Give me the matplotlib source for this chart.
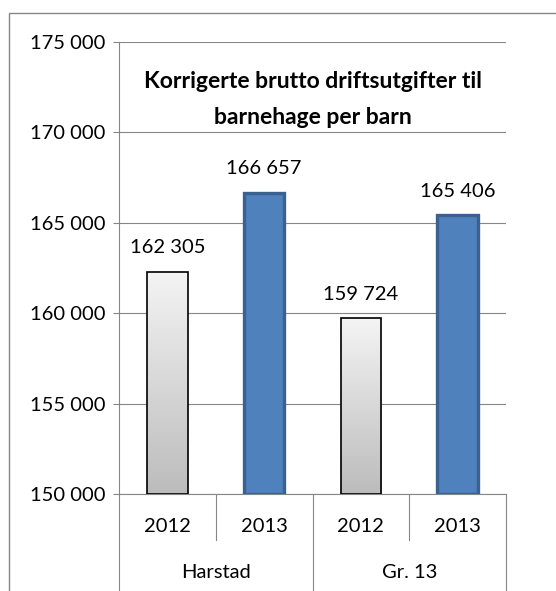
import numpy as np
import matplotlib
matplotlib.use('Agg')
import matplotlib.pyplot as plt
from matplotlib.colors import LinearSegmentedColormap
from matplotlib.patches import Rectangle

# data
groups = ['Harstad', 'Gr. 13']
years = ['2012', '2013', '2012', '2013']
values = [162305, 166657, 159724, 165406]
title_lines = ['Korrigerte brutto driftsutgifter til', 'barnehage per barn']
yticks = [150000, 155000, 160000, 165000, 170000, 175000]

plt.rcParams['font.family'] = ['Lato', 'DejaVu Sans']
GRID = '#868686'

fig = plt.figure(figsize=(5.56, 5.91), dpi=100)
ax = fig.add_axes([119/556, 1-494/591, 387/556, 452/591])

def fmt(v):
    return '{:,}'.format(int(v)).replace(',', ' ')

gray_cmap = LinearSegmentedColormap.from_list('g', ['#bcbcbc', '#f4f4f4'])
grad = np.linspace(0, 1, 256).reshape(-1, 1)
x = np.arange(len(values))
w = 0.42
for i, v in enumerate(values):
    if years[i] == '2012':
        bar = ax.bar(x[i], v - yticks[0], bottom=yticks[0], width=w, facecolor='none',
                     edgecolor='black', linewidth=1.2, zorder=3)[0]
        im = ax.imshow(grad, extent=[x[i]-w/2, x[i]+w/2, yticks[0], v], origin='lower',
                       aspect='auto', cmap=gray_cmap, zorder=2)
        im.set_clip_path(bar)
    else:
        ax.bar(x[i], v - yticks[0], bottom=yticks[0], width=w, color='#4f81bd',
               edgecolor='#3b6190', linewidth=2.4, zorder=3)
    ax.annotate(fmt(v), (x[i], v), xytext=(0, 24), textcoords='offset pixels',
                ha='center', va='center', fontsize=14.5)

ax.set_xlim(-0.5, len(values) - 0.5)
ax.set_ylim(yticks[0], yticks[-1])
ax.set_yticks(yticks)
ax.set_yticklabels([fmt(t) for t in yticks], fontsize=14.5)
ax.tick_params(axis='y', length=4.3, width=0.8, color=GRID, pad=5.5)
ax.set_xticks([])
ax.grid(axis='y', color=GRID, linewidth=0.8, zorder=0)
ax.set_axisbelow(True)
for s in ['top', 'right']:
    ax.spines[s].set_visible(False)
for s in ['left', 'bottom']:
    ax.spines[s].set_color(GRID)
    ax.spines[s].set_linewidth(0.8)

# category axis: years and groups
tr = ax.get_xaxis_transform()
for i, yr in enumerate(years):
    ax.text(x[i], -0.073, yr, transform=tr, ha='center', va='center', fontsize=14.5)
for g, name in enumerate(groups):
    ax.text(2*g + 0.5, -0.173, name, transform=tr, ha='center', va='center', fontsize=14.5)
for sx in [0.5, 2.5]:
    ax.plot([sx, sx], [0, -0.102], transform=tr, color=GRID, lw=0.8, clip_on=False)
for sx in [-0.5, 1.5, 3.5]:
    ax.plot([sx, sx], [0, -0.3], transform=tr, color=GRID, lw=0.8, clip_on=False)

# title inside plot
mid = (len(values) - 1) / 2
ax.text(mid, (494-82)/452, title_lines[0], transform=tr, ha='center', va='center',
        fontsize=16.5, fontweight='bold')
ax.text(mid, (494-117)/452, title_lines[1], transform=tr, ha='center', va='center',
        fontsize=16.5, fontweight='bold')

# chart border
fig.patches.append(Rectangle((9/556, -0.1), 1.2, 1.1 - 13/591, transform=fig.transFigure,
                             fill=False, edgecolor=GRID, linewidth=1.0))

fig.savefig('out.png', dpi=100)
